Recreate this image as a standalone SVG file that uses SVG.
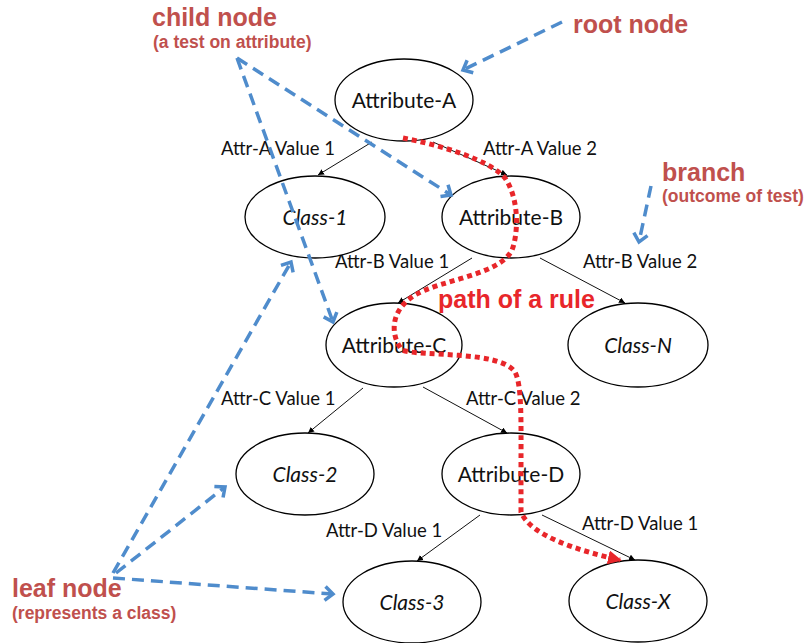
<svg xmlns="http://www.w3.org/2000/svg" width="806" height="643" viewBox="0 0 806 643">
<defs>
<style>
.node ellipse{fill:#fff;stroke:#000;stroke-width:1.3}
.nt{font-family:Lato,"Liberation Sans",sans-serif;font-size:21px;fill:#111;text-anchor:middle}
.it{font-style:italic}
.el{font-family:Lato,"Liberation Sans",sans-serif;font-size:18.5px;fill:#111}
.edge{stroke:#111;stroke-width:1;fill:none;marker-end:url(#ah)}
.blue{stroke:#4f8ccc;stroke-width:3.5;fill:none;stroke-dasharray:12 7;marker-end:url(#bh)}
.lbl{font-family:"Liberation Sans",Arial,sans-serif;font-weight:bold;fill:#c0504d}
.big{font-size:25px}
.sub{font-size:17.5px}
</style>
<marker id="ah" markerWidth="8" markerHeight="8" refX="6" refY="3" orient="auto" markerUnits="userSpaceOnUse">
<path d="M0,0 L6,3 L0,6 z" fill="#000"/>
</marker>
<marker id="bh" markerWidth="20" markerHeight="20" refX="10" refY="10" orient="auto" markerUnits="userSpaceOnUse">
<path d="M2,3 L10,10 L2,17" fill="none" stroke="#4f8ccc" stroke-width="3.5"/>
</marker>
<marker id="rh" markerWidth="20" markerHeight="20" refX="12" refY="7" orient="auto" markerUnits="userSpaceOnUse">
<path d="M0,0 L14,7 L0,14 z" fill="#e8262a"/>
</marker>
</defs>
<rect width="806" height="643" fill="#fff"/>

<g id="connectors">
<line class="edge" x1="372" y1="142" x2="318" y2="175"/>
<line class="edge" x1="433" y1="142" x2="507" y2="175"/>
<line class="edge" x1="472" y1="258" x2="398" y2="303"/>
<line class="edge" x1="540" y1="258" x2="625" y2="303"/>
<line class="edge" x1="363" y1="388" x2="308" y2="433"/>
<line class="edge" x1="423" y1="387" x2="507" y2="433"/>
<line class="edge" x1="480" y1="515" x2="417" y2="561"/>
<line class="edge" x1="542" y1="515" x2="635" y2="560"/>
<g class="el">
<text x="221" y="155">Attr-A Value 1</text>
<text x="483" y="155">Attr-A Value 2</text>
<text x="335" y="268">Attr-B Value 1</text>
<text x="583" y="268">Attr-B Value 2</text>
<text x="221" y="405">Attr-C Value 1</text>
<text x="466" y="405">Attr-C Value 2</text>
<text x="326" y="537">Attr-D Value 1</text>
<text x="582" y="530">Attr-D Value 1</text>
</g>
</g>

<g id="node-attribute-a" class="node"><ellipse cx="404" cy="100" rx="69" ry="41"/><text class="nt" x="404" y="108">Attribute-A</text></g>
<g id="node-class-1" class="node"><ellipse cx="315" cy="217" rx="70" ry="41"/><text class="nt it" x="315" y="225">Class-1</text></g>
<g id="node-attribute-b" class="node"><ellipse cx="511" cy="217" rx="69" ry="41"/><text class="nt" x="511" y="225">Attribute-B</text></g>
<g id="node-attribute-c" class="node"><ellipse cx="394" cy="345" rx="68" ry="42"/><text class="nt" x="394" y="353">Attribute-C</text></g>
<g id="node-class-n" class="node"><ellipse cx="638" cy="345" rx="70" ry="42"/><text class="nt it" x="638" y="353">Class-N</text></g>
<g id="node-class-2" class="node"><ellipse cx="305" cy="474" rx="69" ry="41"/><text class="nt it" x="305" y="482">Class-2</text></g>
<g id="node-attribute-d" class="node"><ellipse cx="511" cy="474" rx="69" ry="41"/><text class="nt" x="511" y="482">Attribute-D</text></g>
<g id="node-class-3" class="node"><ellipse cx="412" cy="602" rx="69" ry="41"/><text class="nt it" x="412" y="610">Class-3</text></g>
<g id="node-class-x" class="node"><ellipse cx="638" cy="601" rx="69" ry="41"/><text class="nt it" x="638" y="609">Class-X</text></g>

<g id="rule-path">
<path d="M403,138 C440,145 490,160 505,178 C520,200 518,235 512,250 C500,275 440,280 415,295 C390,310 390,335 402,350 C420,357 500,350 515,372 C522,385 521,420 521,470 L521,512 C530,535 575,550 620,560" fill="none" stroke="#e8262a" stroke-width="5" stroke-dasharray="5 4" marker-end="url(#rh)"/>
<text class="lbl big" x="438" y="308" style="fill:#e8262a">path of a rule</text>
</g>

<g id="annotations">
<line class="blue" x1="562" y1="22" x2="463" y2="70"/>
<line class="blue" x1="237" y1="58" x2="451" y2="195"/>
<line class="blue" x1="237" y1="58" x2="333" y2="322"/>
<line class="blue" x1="651" y1="186" x2="639" y2="242"/>
<line class="blue" x1="113" y1="573" x2="291" y2="262"/>
<line class="blue" x1="116" y1="573" x2="225" y2="487"/>
<line class="blue" x1="113" y1="578" x2="333" y2="594"/>
<text class="lbl big" x="152" y="26">child node</text>
<text class="lbl sub" x="153" y="48">(a test on attribute)</text>
<text class="lbl big" x="573" y="33">root node</text>
<text class="lbl big" x="662" y="181">branch</text>
<text class="lbl sub" x="662" y="202">(outcome of test)</text>
<text class="lbl big" x="12" y="597">leaf node</text>
<text class="lbl sub" x="12" y="619">(represents a class)</text>
</g>
</svg>
